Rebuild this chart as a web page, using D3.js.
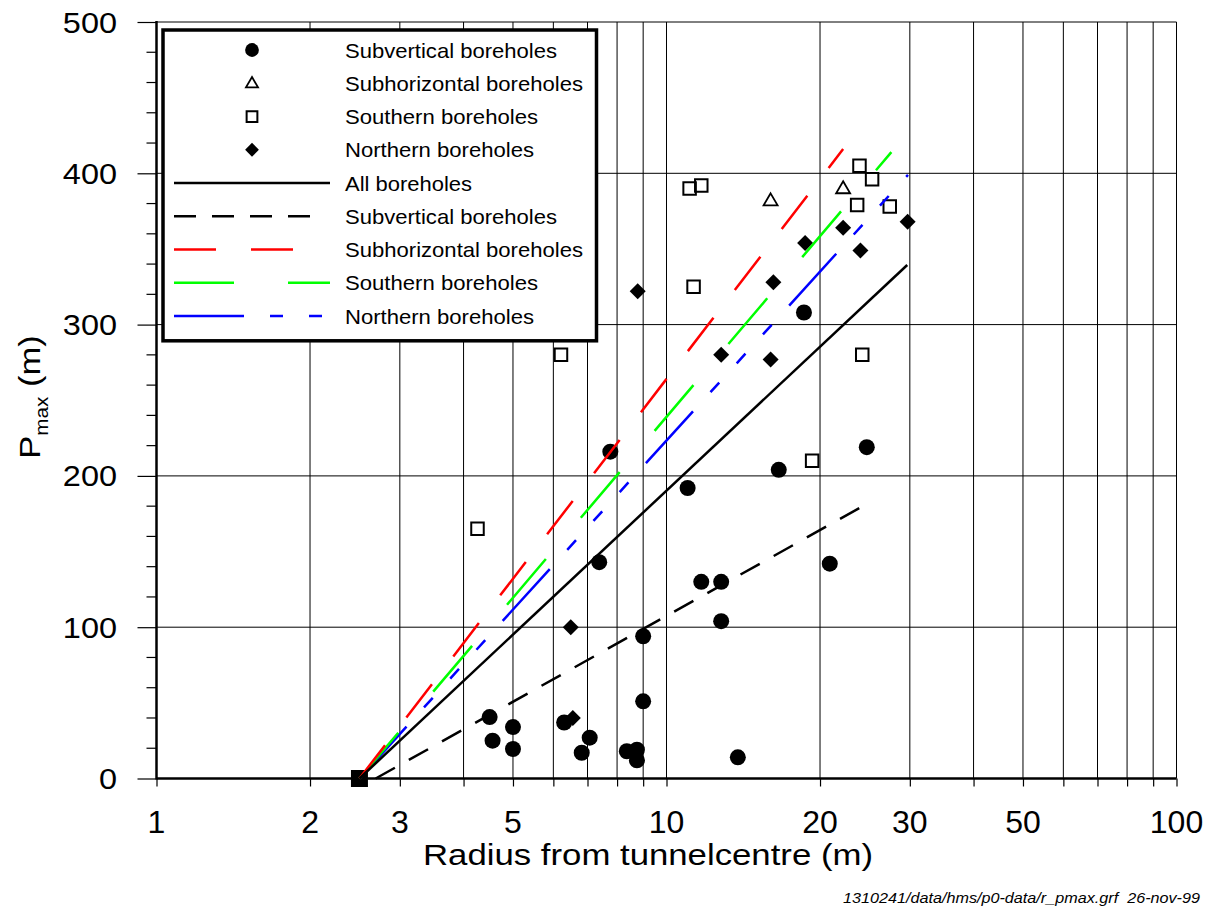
<!DOCTYPE html>
<html>
<head>
<meta charset="utf-8">
<script src="https://cdn.jsdelivr.net/npm/d3@7"></script>
<style>
  html, body { margin: 0; padding: 0; background: #fff; }
  svg { display: block; font-family: Arial, "Liberation Sans", Helvetica, sans-serif; }
</style>
</head>
<body>
<svg id="chart" width="1212" height="906"></svg>
<script>
// measured points: radius from tunnel centre (m) and Pmax (m)
var subvertR = [4.5, 4.56, 5.0, 5.0, 6.3, 7.07, 6.82, 8.36, 8.75, 8.75, 9.0, 9.0, 7.38, 11.7, 12.8, 12.8, 13.8, 7.76, 11.0, 16.6, 18.6, 24.7, 20.9];
var subvertP = [40.6, 25, 34, 19.5, 37, 27, 17, 18, 19, 12, 51, 94, 143, 130, 130, 104, 14, 216, 192, 204, 308, 219, 142];

var subhorR = [16.0, 22.2];
var subhorP = [382, 390];

var southR = [4.26, 6.21, 11.1, 11.7, 11.3, 19.3, 23.9, 25.3, 23.65, 27.4, 24.2];
var southP = [165, 280, 390, 392, 325, 210, 405, 396, 379, 378, 280];

var northR = [6.49, 6.55, 8.78, 12.8, 16.0, 16.2, 18.7, 22.2, 24.0, 29.7];
var northP = [100, 40, 322, 280, 277, 328, 354, 364, 349, 368];

// common start point of the fits
var originR = [2.5];
var originP = [0];

// fitted lines P = a + b*log(r), given by their end points
var fitNames  = ['All boreholes', 'Subvertical boreholes', 'Subhorizontal boreholes', 'Southern boreholes', 'Northern boreholes'];
var fitStartR = [2.5, 2.69, 2.5, 2.5, 2.5];
var fitStartP = [0, 0, 0, 0, 0];
var fitEndR   = [29.65, 24.5, 22.2, 27.6, 29.75];
var fitEndP   = [339.4, 180.8, 416, 414, 399];

var pointNames = ['Subvertical boreholes', 'Subhorizontal boreholes', 'Southern boreholes', 'Northern boreholes'];

// axes
var xTicks = [1, 2, 3, 4, 5, 6, 7, 8, 9, 10, 20, 30, 40, 50, 60, 70, 80, 90, 100];
var xTickLabels = [1, 2, 3, 5, 10, 20, 30, 50, 100];
var yMajor = [0, 100, 200, 300, 400, 500];
var yMinor = d3.range(0, 501, 20);

var xTitle = 'Radius from tunnelcentre (m)';
var footer = '1310241/data/hms/p0-data/r_pmax.grf  26-nov-99';

// styles
var fitStyle = {
	'All boreholes':           {color: '#000', dash: null, legendEnd: 330},
	'Subvertical boreholes':   {color: '#000', dash: '22,16', legendEnd: 325},
	'Subhorizontal boreholes': {color: '#ff0000', dash: '42,35', legendEnd: 325},
	'Southern boreholes':      {color: '#00ff00', dash: '60,54', legendEnd: 330},
	'Northern boreholes':      {color: '#0000ff', dash: '70,26,13,26,13,26,13,26', legendEnd: 325}
};
var legendTextWidth = {
	'Subvertical boreholes': 212, 'Subhorizontal boreholes': 238,
	'Southern boreholes': 193, 'Northern boreholes': 189, 'All boreholes': 127
};

var svg = d3.select('#chart');

var x = d3.scaleLog().domain([1, 100]).range([156.5, 1176.5]);
var y = d3.scaleLinear().domain([0, 500]).range([778.5, 22]);

// grid
var grid = svg.append('g').attr('class', 'grid')
	.attr('stroke', '#000').attr('stroke-width', 1);
grid.selectAll('line.v').data(xTicks.slice(1)).enter().append('line')
	.attr('class', 'v')
	.attr('x1', function(d){ return x(d); }).attr('x2', function(d){ return x(d); })
	.attr('y1', y(0)).attr('y2', y(500));
grid.selectAll('line.h').data(yMajor.slice(1)).enter().append('line')
	.attr('class', 'h')
	.attr('x1', x(1)).attr('x2', x(100))
	.attr('y1', function(d){ return y(d); }).attr('y2', function(d){ return y(d); });

// y axis
var yAxis = d3.axisLeft(y).tickValues(yMajor).tickSize(19).tickFormat('');
var gy = svg.append('g').attr('transform', 'translate(' + x(1) + ',0)').call(yAxis);
gy.select('.domain').remove();
gy.selectAll('.tick line').attr('stroke', '#000').attr('stroke-width', 1.2);
gy.selectAll('line.minor').data(yMinor.filter(function(d){ return d % 100; })).enter()
	.append('line').attr('class', 'minor')
	.attr('x1', -10).attr('x2', 0)
	.attr('y1', function(d){ return y(d); }).attr('y2', function(d){ return y(d); })
	.attr('stroke', '#000').attr('stroke-width', 1.2);

svg.append('g').selectAll('g').data(yMajor).enter().append('g')
	.attr('transform', function(d){ return 'translate(117,' + (y(d) + 10.5) + ') scale(1.12,1)'; })
	.append('text')
	.attr('text-anchor', 'end')
	.attr('font-size', 29)
	.text(function(d){ return d; });

// x axis
var xAxis = d3.axisBottom(x).tickValues(xTicks).tickSize(8).tickFormat('');
var gx = svg.append('g').attr('transform', 'translate(0,' + y(0) + ')').call(xAxis);
gx.select('.domain').remove();
gx.selectAll('.tick line').attr('stroke', '#000').attr('stroke-width', 1.2);

svg.append('g').selectAll('text').data(xTickLabels).enter().append('text')
	.attr('x', function(d){ return x(d); })
	.attr('y', 833)
	.attr('text-anchor', 'middle')
	.attr('font-size', 32)
	.text(function(d){ return d; });

// axis lines
svg.append('line').attr('x1', x(1)).attr('x2', x(100)).attr('y1', y(0)).attr('y2', y(0))
	.attr('stroke', '#000').attr('stroke-width', 2.5);
svg.append('line').attr('x1', x(1)).attr('x2', x(1)).attr('y1', y(0) + 1).attr('y2', y(500) - 1)
	.attr('stroke', '#000').attr('stroke-width', 2.5);

// markers
function squarePath(s) {
	return 'M' + (-s/2) + ',' + (-s/2) + 'h' + s + 'v' + s + 'h' + (-s) + 'Z';
}
function trianglePath(w, h) {
	return 'M0,' + (-h*0.6) + 'L' + (w/2) + ',' + (h*0.4) + 'L' + (-w/2) + ',' + (h*0.4) + 'Z';
}
function diamondPath(d) {
	return 'M0,' + (-d/2) + 'L' + (d/2) + ',0L0,' + (d/2) + 'L' + (-d/2) + ',0Z';
}

function drawMarker(g, type, big) {
	var k = big ? 1 : 0.86;
	if (type === 'Subvertical boreholes') {
		g.append('circle').attr('r', 8 * k).attr('fill', '#000');
	} else if (type === 'Subhorizontal boreholes') {
		g.append('path').attr('d', trianglePath(14 * k, 12 * k))
			.attr('fill', 'none').attr('stroke', '#000').attr('stroke-width', 1.8);
	} else if (type === 'Southern boreholes') {
		g.append('path').attr('d', squarePath(12.5 * k))
			.attr('fill', 'none').attr('stroke', '#000').attr('stroke-width', 2);
	} else if (type === 'Northern boreholes') {
		g.append('path').attr('d', diamondPath(16 * k)).attr('fill', '#000');
	} else {
		g.append('path').attr('d', squarePath(17)).attr('fill', '#000');
	}
}

function zip(rs, ps) {
	return rs.map(function(r, i){ return {r: r, p: ps[i]}; });
}

var pointSets = [
	{name: 'Origin', pts: zip(originR, originP)},
	{name: 'Subvertical boreholes', pts: zip(subvertR, subvertP)},
	{name: 'Northern boreholes', pts: zip(northR, northP)},
	{name: 'Southern boreholes', pts: zip(southR, southP)},
	{name: 'Subhorizontal boreholes', pts: zip(subhorR, subhorP)}
];

var marks = svg.append('g').attr('class', 'marks');
pointSets.forEach(function(set){
	marks.selectAll(null).data(set.pts).enter().append('g')
		.attr('transform', function(d){ return 'translate(' + x(d.r) + ',' + y(d.p) + ')'; })
		.each(function(){ drawMarker(d3.select(this), set.name, true); });
});

// fitted lines
var line = d3.line().x(function(d){ return x(d.r); }).y(function(d){ return y(d.p); });
var fits = fitNames.map(function(n, i){
	return {name: n, pts: [{r: fitStartR[i], p: fitStartP[i]}, {r: fitEndR[i], p: fitEndP[i]}]};
});
svg.append('g').selectAll('path').data(fits.slice().reverse()).enter().append('path')
	.attr('d', function(d){ return line(d.pts); })
	.attr('fill', 'none')
	.attr('stroke', function(d){ return fitStyle[d.name].color; })
	.attr('stroke-width', 2.5)
	.attr('stroke-dasharray', function(d){ return fitStyle[d.name].dash; });

// legend
var lg = svg.append('g').attr('class', 'legend');
lg.append('rect').attr('x', 163).attr('y', 30).attr('width', 433.5).attr('height', 310.8)
	.attr('fill', '#fff').attr('stroke', '#000').attr('stroke-width', 3.5);

var legendRows = pointNames.map(function(n){ return {name: n, kind: 'point'}; })
	.concat(fitNames.map(function(n){ return {name: n, kind: 'line'}; }));

var row = lg.selectAll('g.row').data(legendRows).enter().append('g')
	.attr('class', 'row')
	.attr('transform', function(d, i){ return 'translate(0,' + (50 + i * 33.25) + ')'; });

row.each(function(d){
	var g = d3.select(this);
	if (d.kind === 'point') {
		drawMarker(g.append('g').attr('transform', 'translate(252,0)'), d.name, false);
	} else {
		g.append('line').attr('x1', 174).attr('x2', fitStyle[d.name].legendEnd).attr('y1', 0).attr('y2', 0)
			.attr('stroke', fitStyle[d.name].color)
			.attr('stroke-width', 2.5)
			.attr('stroke-dasharray', fitStyle[d.name].dash);
	}
	g.append('text')
		.attr('x', 345).attr('y', 7.7)
		.attr('font-size', 21)
		.attr('textLength', legendTextWidth[d.name])
		.attr('lengthAdjust', 'spacingAndGlyphs')
		.text(d.name);
});

// axis titles
svg.append('text')
	.attr('x', 648).attr('y', 865)
	.attr('text-anchor', 'middle')
	.attr('font-size', 30)
	.attr('textLength', 450)
	.attr('lengthAdjust', 'spacingAndGlyphs')
	.text(xTitle);

var yt = svg.append('text')
	.attr('transform', 'translate(40,397) rotate(-90) scale(1.15,1)')
	.attr('text-anchor', 'middle')
	.attr('font-size', 30);
yt.append('tspan').text('P');
yt.append('tspan').attr('font-size', 18).attr('dy', 8).text('max');
yt.append('tspan').attr('dy', -8).text(' (m)');

// source line
svg.append('text')
	.attr('x', 1200).attr('y', 903)
	.attr('text-anchor', 'end')
	.attr('font-size', 14)
	.attr('font-style', 'italic')
	.attr('textLength', 357)
	.attr('lengthAdjust', 'spacingAndGlyphs')
	.style('white-space', 'pre')
	.text(footer);
</script>
</body>
</html>
